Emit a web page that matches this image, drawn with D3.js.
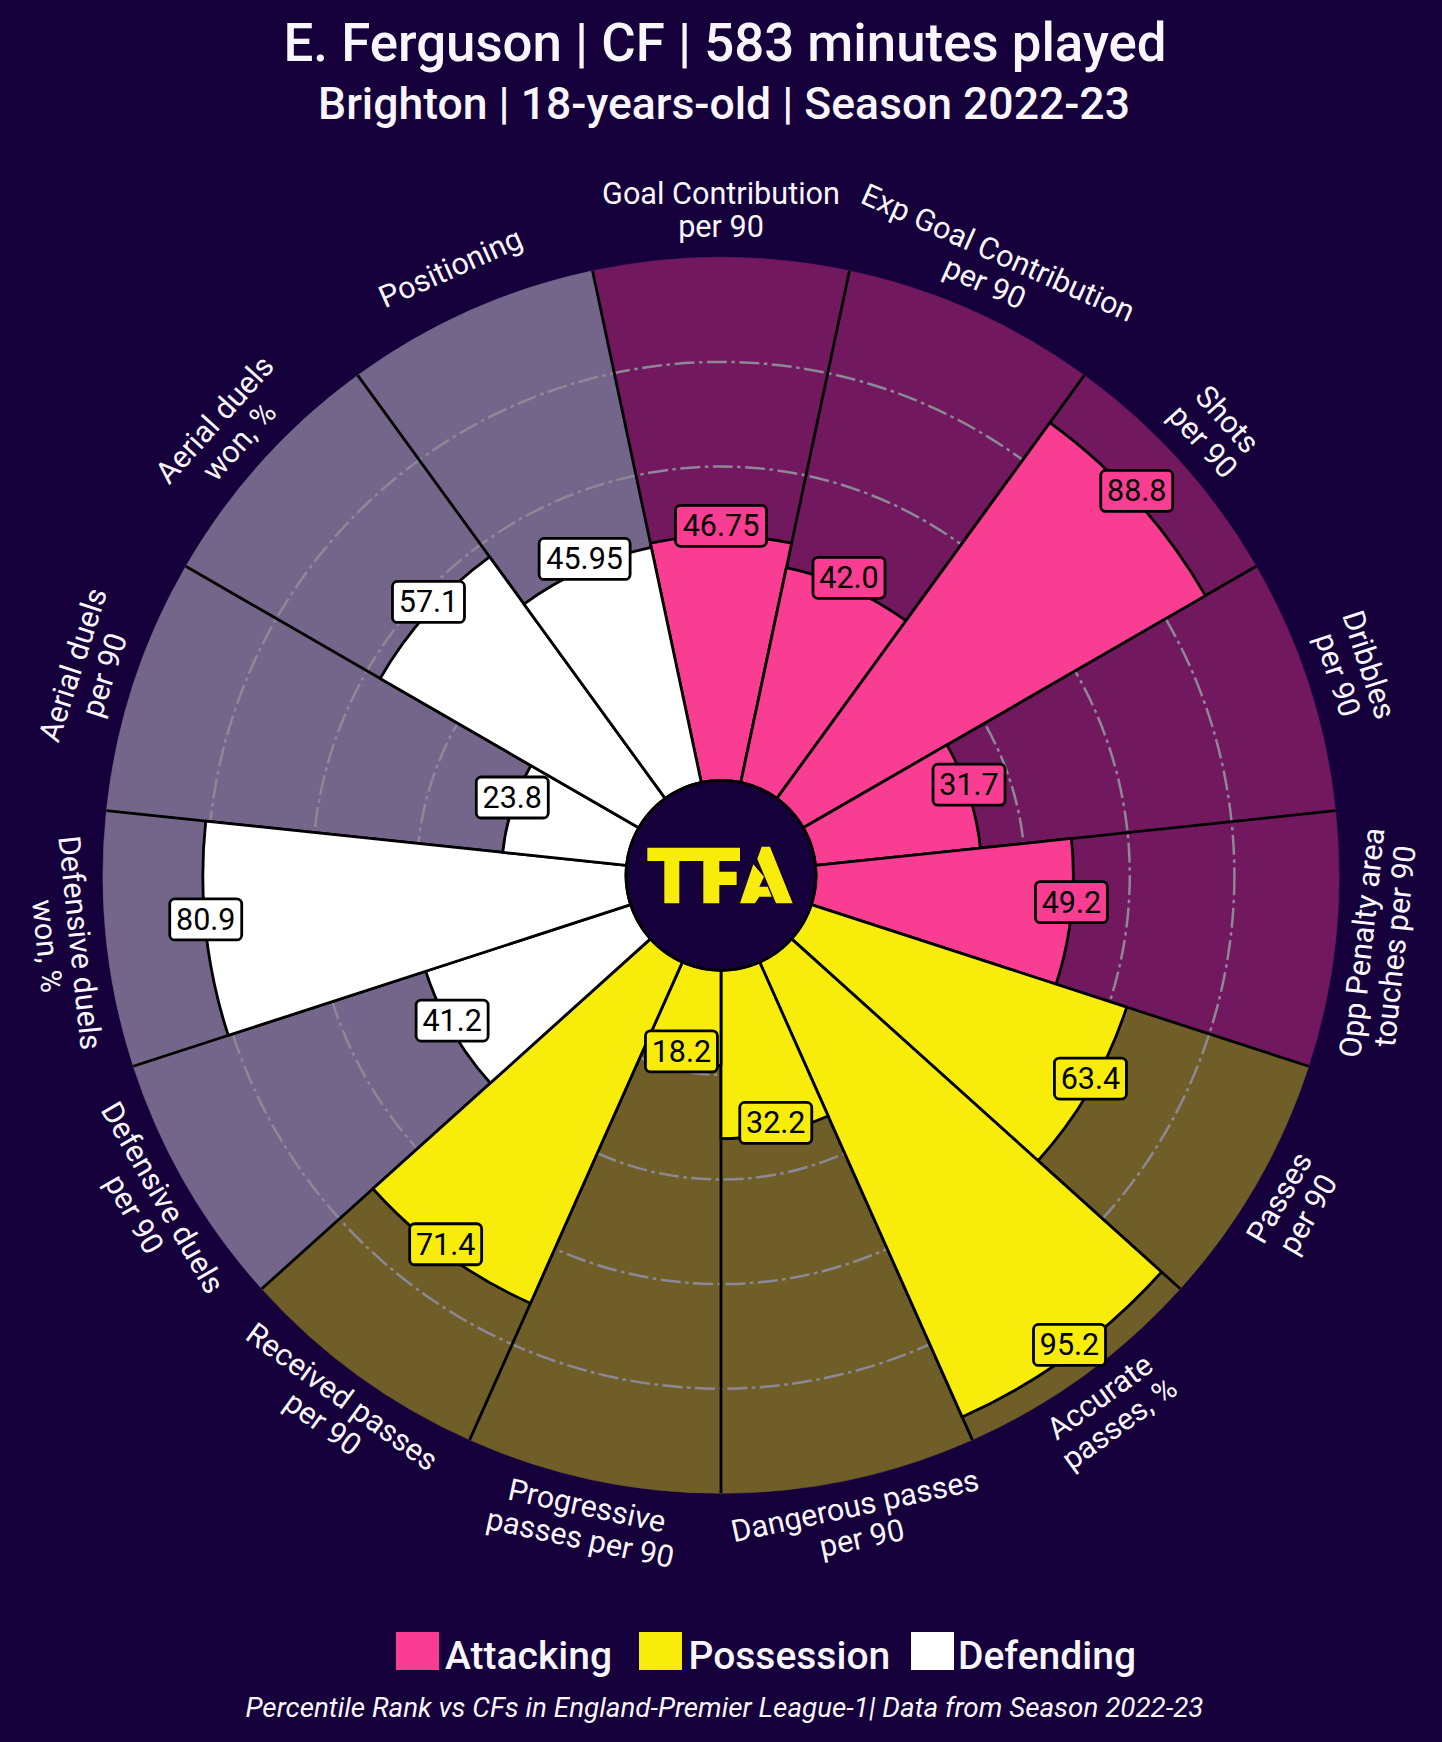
<!DOCTYPE html>
<html><head><meta charset="utf-8">
<script src="https://d3js.org/d3.v7.min.js"></script>
<style>html,body{margin:0;padding:0;background:#16003c}svg{display:block}text{font-family:Roboto,sans-serif}</style>
</head><body><svg id="c" width="1442" height="1742"></svg>
<script>
const params=["Goal Contribution\nper 90","Exp Goal Contribution\nper 90","Shots\nper 90","Dribbles\nper 90","Opp Penalty area\ntouches per 90","Passes\nper 90","Accurate\npasses, %","Dangerous passes\nper 90","Progressive\npasses per 90","Received passes\nper 90","Defensive duels\nper 90","Defensive duels\nwon, %","Aerial duels\nper 90","Aerial duels\nwon, %","Positioning"];
const values=[46.75,42.0,88.8,31.7,49.2,63.4,95.2,32.2,18.2,71.4,41.2,80.9,23.8,57.1,45.95];
const groups=["Attacking","Attacking","Attacking","Attacking","Attacking","Possession","Possession","Possession","Possession","Possession","Defending","Defending","Defending","Defending","Defending"];
const legendNames=["Attacking","Possession","Defending"];
const legendColors=["#f93d93","#f7ec0a","#ffffff"];
const gridTicks=[20,40,60,80];
const titleText="E. Ferguson | CF | 583 minutes played";
const subtitleText="Brighton | 18-years-old | Season 2022-23";
const footerText="Percentile Rank vs CFs in England-Premier League-1| Data from Season 2022-23";

const BG="#16003c",INK="#f8f6fa",cx=721,cy=875.3;
const svg=d3.select("#c");
svg.append("rect").attr("width",1442).attr("height",1742).attr("fill",BG);
const color=d3.scaleOrdinal(legendNames,legendColors);
const r=d3.scaleLinear([0,100],[95,618]);
const ang=d3.scaleLinear([0,params.length],[-Math.PI/15,2*Math.PI-Math.PI/15]);
const arc=d3.arc();
const g=svg.append("g").attr("transform",`translate(${cx},${cy})`);

// background slices
g.selectAll("path.bg").data(values).join("path").attr("class","bg")
 .attr("d",(d,i)=>arc({innerRadius:r(0),outerRadius:r(100),startAngle:ang(i),endAngle:ang(i+1)}))
 .attr("fill",(d,i)=>d3.interpolateRgb(BG,color(groups[i]))(0.4))
 .attr("stroke",(d,i)=>d3.interpolateRgb(BG,color(groups[i]))(0.4)).attr("stroke-width",0.6);

// grid rings
g.selectAll("circle.grid").data(gridTicks).join("circle").attr("class","grid")
 .attr("r",d=>r(d)).attr("fill","none").attr("stroke","#8d8896").attr("stroke-width",2.5)
 .attr("stroke-dasharray","20 4.5 3.5 4.5");

// spokes between background slices
g.selectAll("line.spoke").data(values).join("line").attr("class","spoke")
 .attr("x1",(d,i)=>r(0)*Math.sin(ang(i))).attr("y1",(d,i)=>-r(0)*Math.cos(ang(i)))
 .attr("x2",(d,i)=>r(100)*Math.sin(ang(i))).attr("y2",(d,i)=>-r(100)*Math.cos(ang(i)))
 .attr("stroke","#000").attr("stroke-width",2.8);

// value slices
g.selectAll("path.val").data(values).join("path").attr("class","val")
 .attr("d",(d,i)=>arc({innerRadius:r(0),outerRadius:r(d),startAngle:ang(i),endAngle:ang(i+1)}))
 .attr("fill",(d,i)=>color(groups[i])).attr("stroke","#000").attr("stroke-width",2.8).attr("stroke-linejoin","round");

// centre
g.append("circle").attr("r",r(0)).attr("fill",BG).attr("stroke","#000").attr("stroke-width",2.8);

// logo
const logo=[
 [[22,38],[300,38],[300,78],[238,78],[238,110],[290,110],[290,150],[238,150],[238,205],[190,205],[190,78],[118,78],[118,205],[73,205],[73,78],[22,78]],
 [[365,35],[390,35],[458,205],[408,205],[352,72]],
 [[340,88],[300,205],[345,205],[358,185],[395,185],[383,155],[358,155],[372,125]]
];
svg.append("g").attr("transform","translate(640,835) scale(0.3333)").selectAll("polygon").data(logo).join("polygon")
 .attr("points",d=>d.join(" ")).attr("fill","#f7ec0a");

// param labels
const deg=i=>i*360/params.length;
const lab=g.selectAll("g.param").data(params).join("g").attr("class","param")
 .attr("transform",(d,i)=>{const a=deg(i)*Math.PI/180,R=663;const x=R*Math.sin(a),y=-R*Math.cos(a);
   const rot=(deg(i)>90&&deg(i)<270)?deg(i)-180:deg(i);
   return `translate(${x},${y}) rotate(${rot>180?rot-360:rot})`;});
lab.each(function(d){
  const lines=d.split("\n"),lh=33;
  d3.select(this).selectAll("text").data(lines).join("text")
   .attr("text-anchor","middle").attr("fill",INK).attr("font-size",30.6)
   .attr("y",(l,j)=>(j-(lines.length-1)/2)*lh+8.5).text(l=>l);
});

// value labels
const fmt=v=>Math.abs(v*10-Math.round(v*10))<1e-9?v.toFixed(1):String(v);
const vl=g.selectAll("g.vlab").data(values).join("g").attr("class","vlab")
 .attr("transform",(d,i)=>{const a=deg(i)*Math.PI/180;return `translate(${r(d)*Math.sin(a)},${-r(d)*Math.cos(a)-10})`;});
vl.append("rect").attr("x",d=>-(fmt(d).length===5?45.5:36)).attr("y",-20.5)
 .attr("width",d=>fmt(d).length===5?91:72).attr("height",41).attr("rx",5)
 .attr("fill",(d,i)=>color(groups[i])).attr("stroke","#000").attr("stroke-width",2.8);
vl.append("text").attr("text-anchor","middle").attr("y",10.5).attr("font-size",30.5).attr("fill","#000").text(fmt);

// titles
svg.append("text").attr("x",725).attr("y",61).attr("text-anchor","middle").attr("font-size",52.8).attr("font-weight",500).attr("fill",INK).text(titleText);
svg.append("text").attr("x",724).attr("y",118.5).attr("text-anchor","middle").attr("font-size",44.5).attr("font-weight",500).attr("fill",INK).text(subtitleText);

// legend
const legendX=[396,639,911],legendTextX=[445,688.5,958];
const lg=svg.selectAll("g.leg").data(legendNames).join("g").attr("class","leg");
lg.append("rect").attr("x",(d,i)=>legendX[i]).attr("y",1632).attr("width",43).attr("height",38).attr("fill",d=>color(d));
lg.append("text").attr("x",(d,i)=>legendTextX[i]).attr("y",1669).attr("font-size",39).attr("font-weight",500).attr("fill",INK).text(d=>d);

svg.append("text").attr("x",724.5).attr("y",1717).attr("text-anchor","middle").attr("font-size",27.8).attr("font-style","italic").attr("fill",INK).text(footerText);
</script></body></html>
